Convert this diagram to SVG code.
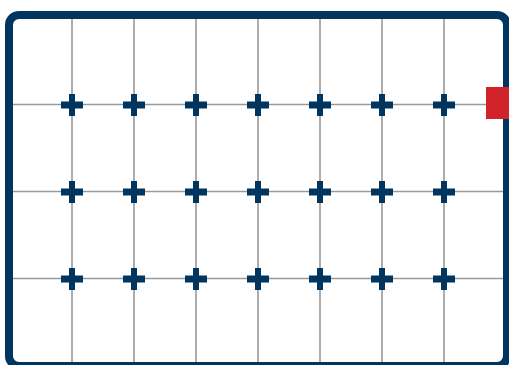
<svg xmlns="http://www.w3.org/2000/svg" width="509" height="365" viewBox="0 0 509 365">
<defs>
<style>
.grid{stroke:#999;stroke-width:1.6;fill:none}
.plus{fill:#00355f}
</style>
<g id="plus"><rect class="plus" x="-11" y="-3.5" width="22" height="7"/><rect class="plus" x="-3" y="-11" width="6" height="22"/></g>
</defs>
<rect x="0" y="0" width="509" height="365" fill="#fff"/>
<g id="connectors">
<g class="grid">
<line x1="72" y1="15" x2="72" y2="365"/>
<line x1="134" y1="15" x2="134" y2="365"/>
<line x1="196" y1="15" x2="196" y2="365"/>
<line x1="258" y1="15" x2="258" y2="365"/>
<line x1="320" y1="15" x2="320" y2="365"/>
<line x1="382" y1="15" x2="382" y2="365"/>
<line x1="444" y1="15" x2="444" y2="365"/>
<line x1="9" y1="104.5" x2="490" y2="104.5"/>
<line x1="9" y1="191.5" x2="507" y2="191.5"/>
<line x1="9" y1="278.5" x2="507" y2="278.5"/>
</g>
</g>
<g id="frame"><rect x="9" y="15" width="498" height="351" rx="10" fill="none" stroke="#00355f" stroke-width="8"/></g>
<g id="nodes">
<use href="#plus" x="72" y="105"/><use href="#plus" x="134" y="105"/><use href="#plus" x="196" y="105"/><use href="#plus" x="258" y="105"/><use href="#plus" x="320" y="105"/><use href="#plus" x="382" y="105"/><use href="#plus" x="444" y="105"/>
<use href="#plus" x="72" y="192"/><use href="#plus" x="134" y="192"/><use href="#plus" x="196" y="192"/><use href="#plus" x="258" y="192"/><use href="#plus" x="320" y="192"/><use href="#plus" x="382" y="192"/><use href="#plus" x="444" y="192"/>
<use href="#plus" x="72" y="279"/><use href="#plus" x="134" y="279"/><use href="#plus" x="196" y="279"/><use href="#plus" x="258" y="279"/><use href="#plus" x="320" y="279"/><use href="#plus" x="382" y="279"/><use href="#plus" x="444" y="279"/>
</g>
<g id="marker"><rect x="486" y="87" width="30" height="32" fill="#d2232a"/></g>
</svg>
